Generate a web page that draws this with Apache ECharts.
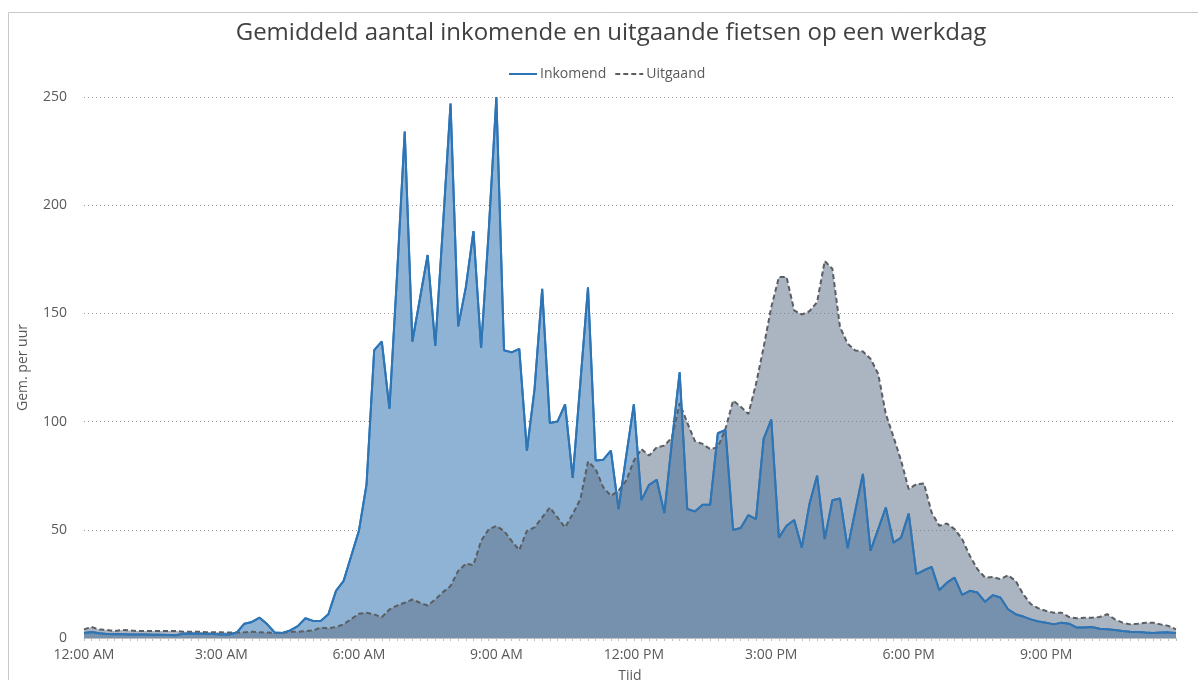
<!DOCTYPE html>
<html>
<head>
<meta charset="utf-8">
<script src="https://cdn.jsdelivr.net/npm/echarts@6/dist/echarts.min.js"></script>
<style>
  html, body { margin: 0; padding: 0; background: #fff; }
  #fietsen { width: 1198px; height: 680px; }
</style>
</head>
<body>
<div id="fietsen"></div>
<script>
// tijdstippen per 10 minuten, 12:00 AM t/m 11:50 PM
var tijden = [];
for (var h = 0; h < 24; h++) {
  for (var m = 0; m < 60; m += 10) {
    var uur = h % 12 === 0 ? 12 : h % 12;
    tijden.push(uur + ":" + (m < 10 ? "0" + m : m) + (h < 12 ? " AM" : " PM"));
  }
}

var inkomend = [
  2.3, 2.8, 2.2, 1.8, 1.7, 1.7, 1.6, 1.6, 1.6, 1.5, 1.5, 1.4,
  1.3, 2.0, 2.1, 2.0, 2.0, 1.8, 1.6, 1.6, 2.5, 6.6, 7.4, 9.4,
  6.3, 2.5, 2.3, 3.5, 5.5, 9.1, 7.9, 7.9, 11, 21.8, 26.4, 38,
  49.5, 71, 133, 137, 106, 168, 234, 137, 157, 177, 135, 190,
  247, 144, 162, 188, 134, 188, 250, 133, 132, 133.6, 86.6, 115,
  161.4, 99.4, 100, 108, 74, 118, 162, 82, 82.4, 86.6, 59.6, 84,
  108, 63.7, 70.8, 73.1, 57.7, 91, 122.8, 59.6, 58.5, 61.6, 61.6, 94.6,
  96.1, 49.9, 50.8, 56.8, 54.9, 92, 100.9, 46.4, 51.9, 54.5, 41.8, 61.9,
  75, 45.7, 63.7, 64.5, 41.5, 58.8, 75.8, 40.3, 50.3, 60.3, 44.1, 46.4,
  57.5, 29.5, 31.3, 32.9, 22.1, 25.6, 27.9, 19.9, 21.8, 21, 16.7, 19.8,
  18.7, 13.3, 11, 9.9, 8.6, 7.6, 7.1, 6.3, 7.1, 6.6, 4.8, 4.8,
  5.1, 4.3, 4, 3.7, 3.2, 2.9, 2.8, 2.5, 2.3, 2.5, 2.6, 2.3
];

var uitgaand = [
  4, 5.1, 3.9, 3.7, 3.2, 3.7, 3.5, 3.2, 3.2, 3.2, 3.2, 3.2,
  3.2, 2.9, 2.9, 2.9, 2.7, 2.6, 2.6, 2.5, 2.5, 2.6, 2.9, 2.6,
  2.5, 2.3, 2.4, 2.9, 2.9, 3.2, 3.5, 4.8, 4.5, 5.1, 6.3, 8.8,
  11.2, 11.7, 10.9, 9.6, 13.2, 15, 16.3, 17.8, 16.3, 15, 17.8, 21.2,
  24, 31, 34.3, 33.7, 44.9, 50.2, 51.8, 49.5, 44.9, 40.6, 49.5, 51.1,
  55.7, 60.3, 55.7, 51.1, 57.3, 64.2, 81.5, 78.1, 69.6, 65.7, 68.1, 72.7,
  81.9, 87.3, 84.3, 88.1, 88.9, 92.7, 108.5, 99.5, 91, 89.7, 87.3, 88.1,
  96.6, 109.7, 106.9, 103.5, 117.4, 134.4, 152.9, 166.8, 166.8, 151.4, 149.5, 151,
  155.2, 174.2, 170.6, 143.7, 136, 132.9, 132.4, 129, 122.1, 103.5, 93, 82,
  68.8, 71.1, 71.4, 58, 51.9, 52.9, 50.3, 45.7, 38, 31.8, 27.9, 28.2,
  27.2, 29, 26.4, 20.2, 15.6, 13.7, 12.5, 11.7, 11.7, 9.7, 9.1, 9.4,
  9.4, 9.7, 11, 8.6, 7.1, 6.3, 6.6, 7.1, 7.1, 6.3, 5.6, 4
];

var yTicks = [0, 50, 100, 150, 200, 250];

var fietsChart = echarts.init(document.getElementById("fietsen"));
var fietsOption = {
  animation: false,
  textStyle: {
    fontFamily: "Open Sans"
  },
  title: {
    text: "Gemiddeld aantal inkomende en uitgaande fietsen op een werkdag",
    left: 606,
    textAlign: "center",
    top: 16,
    textStyle: {
      fontFamily: "Open Sans",
      fontSize: 24,
      fontWeight: "normal",
      color: "#404040"
    }
  },
  legend: {
    data: ["Inkomend", "Uitgaand"],
    left: 503,
    top: 62,
    itemWidth: 28,
    itemHeight: 14,
    itemGap: 8,
    // alleen de lijn tonen, geen bolletje
    itemStyle: {
      opacity: 0
    },
    textStyle: {
      color: "#595959",
      fontSize: 14,
      padding: [0, 0, 0, -2]
    }
  },
  graphic: [
    {
      type: "line",
      shape: { x1: 8.5, y1: 12.5, x2: 1198, y2: 12.5 },
      style: { stroke: "#c8c8c8", lineWidth: 1 },
      silent: true
    },
    {
      type: "line",
      shape: { x1: 8.5, y1: 12.5, x2: 8.5, y2: 680 },
      style: { stroke: "#c8c8c8", lineWidth: 1 },
      silent: true
    }
  ],
  grid: {
    left: 84,
    right: 22,
    top: 97,
    bottom: 42,
    outerBoundsMode: "none"
  },
  xAxis: {
    type: "category",
    data: tijden,
    boundaryGap: false,
    name: "Tijd",
    nameLocation: "middle",
    nameGap: 31,
    nameTextStyle: {
      color: "#595959",
      fontSize: 14
    },
    axisLine: {
      lineStyle: {
        color: "#bfbfbf",
        width: 1
      }
    },
    axisTick: {
      show: true,
      interval: 0,
      length: 3,
      lineStyle: {
        color: "#bfbfbf"
      }
    },
    axisLabel: {
      //om de 3 uur een label
      interval: 17,
      color: "#595959",
      fontSize: 14,
      margin: 10
    },
    splitLine: {
      show: false
    }
  },
  yAxis: {
    type: "value",
    min: yTicks[0],
    max: yTicks[yTicks.length - 1],
    interval: 50,
    name: "Gem. per uur",
    nameLocation: "middle",
    nameGap: 54,
    nameTextStyle: {
      color: "#595959",
      fontSize: 14
    },
    axisLine: {
      show: false
    },
    axisTick: {
      show: false
    },
    axisLabel: {
      color: "#595959",
      fontSize: 14,
      margin: 17
    },
    splitLine: {
      show: true,
      lineStyle: {
        color: "#9a9a9a",
        type: [1, 3],
        width: 1
      }
    }
  },
  series: [
    {
      name: "Inkomend",
      type: "line",
      data: inkomend,
      symbol: "none",
      z: 2,
      lineStyle: {
        color: "#2e75b6",
        width: 2
      },
      itemStyle: {
        color: "#2e75b6"
      },
      areaStyle: {
        color: "#8fb3d5",
        opacity: 1
      }
    },
    {
      name: "Uitgaand",
      type: "line",
      data: uitgaand,
      symbol: "none",
      z: 3,
      lineStyle: {
        color: "#5a5e63",
        width: 2,
        type: [5, 3]
      },
      itemStyle: {
        color: "#5a5e63"
      },
      areaStyle: {
        color: "rgba(94,115,138,0.53)",
        opacity: 1
      }
    },
    {
      // blauwe lijn nog een keer bovenop het grijze vlak
      name: "Inkomend",
      type: "line",
      data: inkomend,
      symbol: "none",
      z: 4,
      lineStyle: {
        color: "#2e75b6",
        width: 2
      },
      itemStyle: {
        color: "#2e75b6"
      }
    }
  ]
};
fietsChart.setOption(fietsOption);
</script>
</body>
</html>
